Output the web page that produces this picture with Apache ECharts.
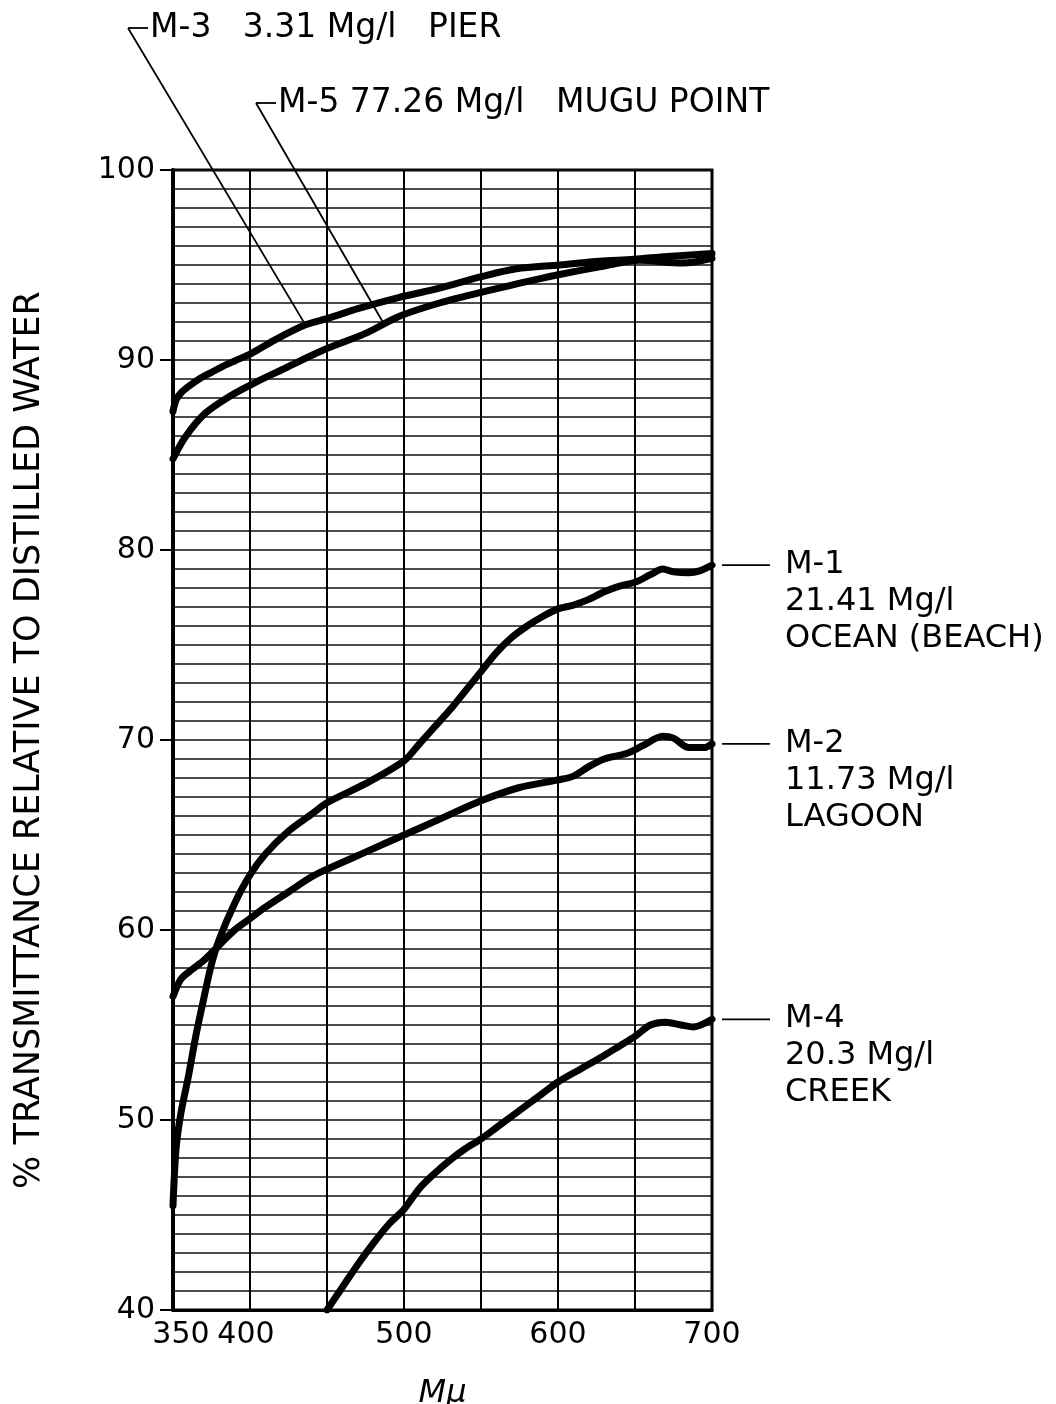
<!DOCTYPE html>
<html>
<head>
<meta charset="utf-8">
<script src="https://cdn.jsdelivr.net/npm/echarts@6/dist/echarts.min.js"></script>
<style>
html,body{margin:0;padding:0;background:#fff;}
#chart{width:1056px;height:1404px;}
</style>
</head>
<body>
<div id="chart"></div>
<script>
// ---- data ----
const xTicksLabeled = [350, 400, 500, 600, 700];
const yTitle = '% TRANSMITTANCE RELATIVE TO DISTILLED WATER';
const xTitle = 'M\u03bc';

const m3W = [350, 352, 355, 360, 367, 375, 382, 390, 401, 416, 436, 451, 470, 497, 519, 551, 573, 601, 627, 649, 671, 700];
const m3V = [87.3, 87.9, 88.25, 88.6, 89.0, 89.35, 89.65, 89.95, 90.35, 91.05, 91.85, 92.2, 92.7, 93.3, 93.7, 94.4, 94.8, 95.0, 95.2, 95.3, 95.45, 95.6];

const m5W = [350, 358, 371, 388, 403, 421, 447, 475, 497, 523, 552, 584, 601, 627, 653, 681, 700];
const m5V = [84.8, 85.95, 87.2, 88.15, 88.8, 89.5, 90.5, 91.4, 92.3, 93.0, 93.6, 94.2, 94.5, 94.9, 95.25, 95.1, 95.35];

const m1W = [350, 352, 355, 360, 365, 370, 375, 380, 390, 400, 410, 425, 440, 450, 475, 500, 510, 520, 530, 540, 550, 560, 570, 580, 590, 600, 610, 620, 630, 640, 650, 660, 668, 675, 685, 692, 700];
const m1V = [45.5, 48.5, 50.3, 52.3, 54.5, 56.4, 58.2, 59.5, 61.4, 62.9, 64.0, 65.2, 66.1, 66.7, 67.7, 68.9, 69.8, 70.7, 71.6, 72.6, 73.6, 74.6, 75.4, 76.0, 76.5, 76.9, 77.1, 77.4, 77.8, 78.1, 78.3, 78.7, 79.0, 78.85, 78.8, 78.9, 79.2];

const m2W = [350, 355, 362, 370, 380, 390, 400, 410, 425, 440, 450, 475, 500, 525, 550, 575, 600, 610, 620, 630, 645, 655, 668, 675, 685, 695, 700];
const m2V = [56.5, 57.4, 57.9, 58.4, 59.2, 60.0, 60.6, 61.2, 62.0, 62.8, 63.2, 64.1, 65.0, 65.9, 66.8, 67.5, 67.9, 68.1, 68.6, 69.0, 69.3, 69.7, 70.2, 70.1, 69.6, 69.6, 69.8];

const m4W = [450, 460, 470, 480, 490, 500, 510, 520, 530, 540, 550, 560, 570, 580, 590, 600, 615, 630, 640, 650, 660, 670, 680, 688, 700];
const m4V = [40.0, 41.2, 42.4, 43.5, 44.5, 45.3, 46.4, 47.2, 47.9, 48.5, 49.0, 49.6, 50.2, 50.8, 51.4, 52.0, 52.7, 53.4, 53.9, 54.4, 55.0, 55.15, 55.0, 54.9, 55.3];

const labelM3 = 'M-3   3.31 Mg/l   PIER';
const labelM5 = 'M-5 77.26 Mg/l   MUGU POINT';
const labelM1 = ['M-1', '21.41 Mg/l', 'OCEAN (BEACH)'];
const labelM2 = ['M-2', '11.73 Mg/l', 'LAGOON'];
const labelM4 = ['M-4', '20.3 Mg/l', 'CREEK'];

// ---- chart ----
const FONT = '"DejaVu Sans", "Noto Sans", sans-serif';
const zip = (w, v) => w.map((x, i) => [x, v[i]]);
const chart = echarts.init(document.getElementById('chart'), null, {renderer: 'canvas'});

function lineSeries(name, w, v) {
  return {
    name: name, type: 'line', data: zip(w, v), showSymbol: false, smooth: 0.3,
    lineStyle: {color: '#000', width: 7, cap: 'round', join: 'round'}, z: 5, clip: true
  };
}

chart.setOption({
  backgroundColor: '#fff',
  animation: false,
  grid: {left: 173, top: 170, width: 539, height: 1140, outerBoundsMode: 'none', containLabel: false,
         show: true, borderColor: '#000', borderWidth: 3, backgroundColor: 'transparent'},
  xAxis: {
    type: 'value', min: 350, max: 700, interval: 50,
    name: xTitle, nameLocation: 'middle', nameGap: 68,
    nameTextStyle: {fontFamily: FONT, fontSize: 32, color: '#000', fontStyle: 'italic'},
    axisLine: {show: true, lineStyle: {color: '#000', width: 3}},
    axisTick: {show: false},
    axisLabel: {
      fontFamily: FONT, fontSize: 30, color: '#000', margin: 10,
      formatter: v => xTicksLabeled.includes(v) ? (v === 350 ? '{a|' + v + '}' : (v === 400 ? '{b|' + v + '}' : String(v))) : '',
      rich: {
        a: {fontFamily: FONT, fontSize: 30, color: '#000', padding: [0, 0, 0, 16]},
        b: {fontFamily: FONT, fontSize: 30, color: '#000', padding: [0, 8, 0, 0]}
      }
    },
    splitLine: {show: true, lineStyle: {color: '#000', width: 2}}
  },
  yAxis: {
    type: 'value', min: 40, max: 100, interval: 10,
    name: yTitle, nameLocation: 'middle', nameGap: 126, nameRotate: 90,
    nameTextStyle: {fontFamily: FONT, fontSize: 35, color: '#000'},
    axisLine: {show: true, lineStyle: {color: '#000', width: 4}},
    axisTick: {show: true, inside: false, length: 13, lineStyle: {color: '#000', width: 2}},
    axisLabel: {fontFamily: FONT, fontSize: 30, color: '#000', margin: 18},
    splitLine: {show: true, lineStyle: {color: '#111', width: 1.6}},
    minorTick: {show: false, splitNumber: 10},
    minorSplitLine: {show: true, lineStyle: {color: '#111', width: 1.6}}
  },
  series: [
    lineSeries('M-3', m3W, m3V),
    lineSeries('M-5', m5W, m5V),
    lineSeries('M-1', m1W, m1V),
    lineSeries('M-2', m2W, m2V),
    lineSeries('M-4', m4W, m4V)
  ]
});

// ---- annotations: leader lines anchored to data points ----
function interp(w, v, x) {
  for (let i = 0; i < w.length - 1; i++) {
    if (x >= w[i] && x <= w[i + 1]) {
      const t = (x - w[i]) / (w[i + 1] - w[i]);
      return v[i] + t * (v[i + 1] - v[i]);
    }
  }
  return v[v.length - 1];
}
const px = (x, y) => chart.convertToPixel({gridIndex: 0}, [x, y]);

const graphics = [];
const textStyle = (extra) => Object.assign({fontFamily: FONT, fontSize: 31, fill: '#000'}, extra);

// top-left labels (M-3, M-5)
const topLabels = [
  {text: labelM3, corner: [128, 28], w: m3W, v: m3V, at: 436},
  {text: labelM5, corner: [256, 103], w: m5W, v: m5V, at: 487}
];
topLabels.forEach(l => {
  const end = px(l.at, interp(l.w, l.v, l.at));
  graphics.push({type: 'line', shape: {x1: l.corner[0], y1: l.corner[1], x2: end[0], y2: end[1]}, style: {stroke: '#000', lineWidth: 1.8}, z: 10});
  graphics.push({type: 'line', shape: {x1: l.corner[0], y1: l.corner[1], x2: l.corner[0] + 20, y2: l.corner[1]}, style: {stroke: '#000', lineWidth: 1.8}, z: 10});
  graphics.push({type: 'text', x: l.corner[0] + 22, y: l.corner[1], style: textStyle({text: l.text, fontSize: 33, verticalAlign: 'middle', align: 'left'}), z: 10});
});

// right-side labels (M-1, M-2, M-4)
const rightLabels = [
  {lines: labelM1, w: m1W, v: m1V},
  {lines: labelM2, w: m2W, v: m2V},
  {lines: labelM4, w: m4W, v: m4V}
];
rightLabels.forEach(l => {
  const end = px(700, l.v[l.v.length - 1]);
  graphics.push({type: 'line', shape: {x1: end[0] + 10, y1: end[1], x2: end[0] + 58, y2: end[1]}, style: {stroke: '#000', lineWidth: 1.8}, z: 10});
  graphics.push({type: 'text', x: end[0] + 73, y: end[1] - 19, style: textStyle({text: l.lines.join('\n'), fontSize: 32, verticalAlign: 'top', align: 'left', lineHeight: 37}), z: 10});
});

chart.setOption({graphic: graphics});
</script>
</body>
</html>
